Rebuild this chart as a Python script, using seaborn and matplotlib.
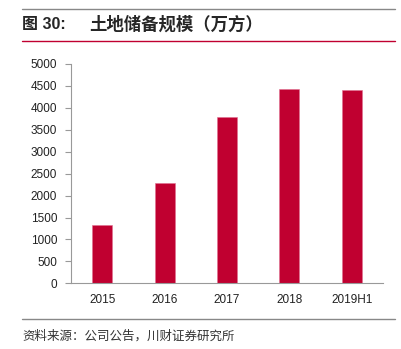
import matplotlib
matplotlib.use("Agg")
import matplotlib.pyplot as plt
import seaborn as sns
import pandas as pd
import numpy as np
from matplotlib.lines import Line2D

categories = ["2015", "2016", "2017", "2018", "2019H1"]
values = [1320, 2280, 3800, 4430, 4400]
yticks = [0, 500, 1000, 1500, 2000, 2500, 3000, 3500, 4000, 4500, 5000]

sns.set_style("white")
plt.rcParams['font.family'] = ['Liberation Sans', 'Noto Sans CJK SC', 'DejaVu Sans']

fig = plt.figure(figsize=(4.02, 3.49), dpi=100)
ax = fig.add_axes([71/402, 1-283.3/349, (383-71)/402, (283.3-64)/349])

df = pd.DataFrame({"cat": categories, "val": values})
sns.barplot(data=df, x="cat", y="val", color="#C00030", width=0.32, ax=ax,
            saturation=1, edgecolor="#E07090", linewidth=0.4)

ax.set_ylim(0, 5000)
ax.set_xlim(-0.5, len(categories) - 0.5)
ax.set_yticks(yticks)
ax.set_yticklabels([str(t) for t in yticks], fontsize=8.5, color="#222222")
ax.set_xticks(range(len(categories)))
ax.set_xticklabels(categories, fontsize=8.5, color="#222222")
ax.set_xticks(np.arange(-0.5, len(categories)), minor=True)
ax.tick_params(axis='x', which='major', length=0, pad=8)
ax.tick_params(axis='x', which='minor', length=4, color="#999999", width=0.8, direction='out')
ax.tick_params(axis='y', length=4, color="#999999", width=0.8, direction='out', left=True, pad=6)
ax.set_xlabel("")
ax.set_ylabel("")
for s in ["top", "right"]:
    ax.spines[s].set_visible(False)
for s in ["left", "bottom"]:
    ax.spines[s].set_color("#999999")
    ax.spines[s].set_linewidth(0.8)

# header / footer
fig.add_artist(Line2D([22/402, 395/402], [1-9/349, 1-9/349], color="#888888", lw=1.0))
fig.add_artist(Line2D([22/402, 395/402], [1-41/349, 1-41/349], color="#C00030", lw=1.0))
fig.add_artist(Line2D([22/402, 395/402], [1-319/349, 1-319/349], color="#888888", lw=1.0))
fig.text(22/402, 1-25/349, "图 30:", fontsize=11.5, fontweight='bold', va='center', ha='left',
         family=['Liberation Sans', 'Noto Sans CJK SC'])
fig.text(89/402, 1-25/349, "土地储备规模（万方）", fontsize=12.5, fontweight='bold', va='center', ha='left',
         family=['Noto Sans CJK SC', 'DejaVu Sans'])
fig.text(22/402, 1-336/349, "资料来源：公司公告，川财证券研究所", fontsize=9, style='italic',
         va='center', ha='left', color="#333333", family=['Noto Sans CJK SC', 'DejaVu Sans'])

fig.savefig("out.png", dpi=100)
